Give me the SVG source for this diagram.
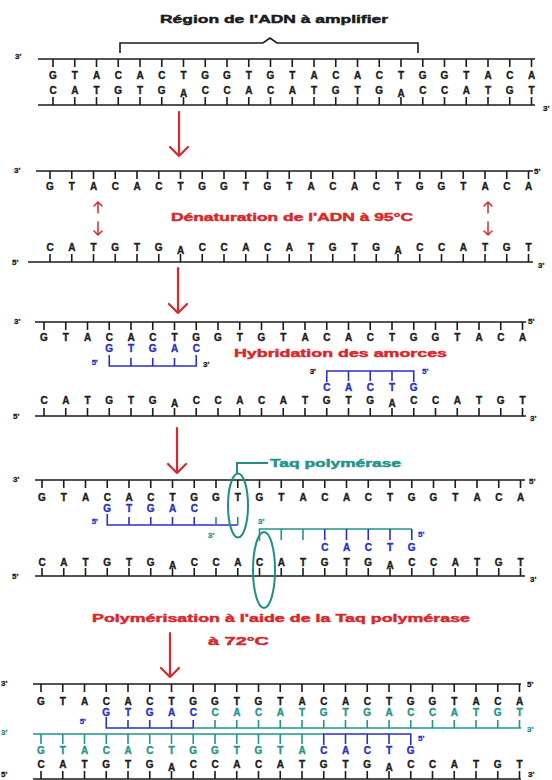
<svg xmlns="http://www.w3.org/2000/svg" xmlns:xlink="http://www.w3.org/1999/xlink" width="552" height="780" viewBox="0 0 552 780">
<style>
  .ln{stroke:#1b1b1b;stroke-width:1.6;fill:none}
  .bl{stroke:#2b30c2;stroke-width:1.6;fill:none}
  .tl{stroke:#1f968a;stroke-width:1.6;fill:none}
  .base{font-family:"Liberation Sans",Arial,sans-serif;font-weight:bold;font-size:10px;text-anchor:middle;fill:#1b1b1b;stroke:#1b1b1b;stroke-width:0.35}
  .end{font-family:"Liberation Sans",Arial,sans-serif;font-weight:bold;font-size:8px;fill:#1b1b1b;stroke:#1b1b1b;stroke-width:0.3}
  .endr{text-anchor:end}
  .lab{font-family:"Liberation Sans",Arial,sans-serif;font-weight:900;font-size:11px;stroke-width:0.45}
  .red{fill:#d8282c;stroke:#d8282c}
  .blue{fill:#2b30c2;stroke:#2b30c2}
  .teal{fill:#1f968a;stroke:#1f968a}
  .blk{fill:#1b1b1b;stroke:#1b1b1b}
  .arr{stroke:#d8282c;stroke-width:2.2;fill:none;stroke-linecap:round;stroke-linejoin:round}
  .arr2{stroke:#d8282c;stroke-width:1.5;fill:none;stroke-linecap:round;stroke-linejoin:round}
  .oval{stroke:#1f8f82;stroke-width:2;fill:none}
</style>
<defs>
  <!-- 23 base ticks, 21.75 px apart, 8 px long -->
  <path id="comb" class="ln" d="M0 0V8M21.75 0V8M43.5 0V8M65.25 0V8M87 0V8M108.75 0V8M130.5 0V8M152.25 0V8M174 0V8M195.75 0V8M217.5 0V8M239.25 0V8M261 0V8M282.75 0V8M304.5 0V8M326.25 0V8M348 0V8M369.75 0V8M391.5 0V8M413.25 0V8M435 0V8M456.75 0V8M478.5 0V8"/>
</defs>

<!-- step 1: double-stranded DNA with region to amplify -->
<g id="step1-duplex">
  <text class="lab blk" x="160" y="23" textLength="228" lengthAdjust="spacingAndGlyphs">Région de l'ADN à amplifier</text>
  <path class="ln" d="M120 53V43H263L270 38L277 43H418V53"/>
  <path class="ln" d="M38 59H535M38 105H535"/>
  <text class="end" x="15" y="59">3'</text>
  <text class="end" x="543" y="111">3'</text>
  <g transform="translate(53 0)">
    <use xlink:href="#comb" y="59"/>
    <use xlink:href="#comb" y="97"/>
    <text class="base" x="0 21.75 43.5 65.25 87 108.75 130.5 152.25 174 195.75 217.5 239.25 261 282.75 304.5 326.25 348 369.75 391.5 413.25 435 456.75 478.5" y="78.5">GTACACTGGTGTACACTGGTACA</text>
    <text class="base" x="0 21.75 43.5 65.25 87 108.75 130.5 152.25 174 195.75 217.5 239.25 261 282.75 304.5 326.25 348 369.75 391.5 413.25 435 456.75 478.5" y="93.5 93.5 93.5 93.5 93.5 93.5 96.5 93.5 93.5 93.5 93.5 93.5 93.5 93.5 93.5 93.5 96.5 93.5 93.5 93.5 93.5 93.5 93.5">CATGTGACCACATGTGACCATGT</text>
  </g>
</g>

<!-- step 2: denaturation -->
<g id="step2-denaturation">
  <path class="ln" d="M36 171H533M28 262H533"/>
  <text class="end" x="14" y="173">3'</text>
  <text class="end" x="534" y="174">5'</text>
  <text class="end" x="12" y="265">5'</text>
  <text class="end" x="538" y="268">3'</text>
  <g transform="translate(50 0)">
    <use xlink:href="#comb" y="171"/>
    <use xlink:href="#comb" y="254"/>
    <text class="base" x="0 21.75 43.5 65.25 87 108.75 130.5 152.25 174 195.75 217.5 239.25 261 282.75 304.5 326.25 348 369.75 391.5 413.25 435 456.75 478.5" y="189.5">GTACACTGGTGTACACTGGTACA</text>
    <text class="base" x="0 21.75 43.5 65.25 87 108.75 130.5 152.25 174 195.75 217.5 239.25 261 282.75 304.5 326.25 348 369.75 391.5 413.25 435 456.75 478.5" y="250.5 250.5 250.5 250.5 250.5 250.5 253.5 250.5 250.5 250.5 250.5 250.5 250.5 250.5 250.5 250.5 253.5 250.5 250.5 250.5 250.5 250.5 250.5">CATGTGACCACATGTGACCATGT</text>
  </g>
  <path class="arr2" d="M98 213V202M94 206L98 202L102 206M98 222V235M94 231L98 235L102 231"/>
  <path class="arr2" d="M488 213V202M484 206L488 202L492 206M488 222V235M484 231L488 235L492 231"/>
  <text class="lab red" x="171" y="221" textLength="242" lengthAdjust="spacingAndGlyphs">Dénaturation de l'ADN à 95°C</text>
</g>

<!-- step 3: primer annealing -->
<g id="step3-hybridation">
  <path class="ln" d="M35 322H526M35 416H526"/>
  <text class="end" x="14" y="324">3'</text>
  <text class="end" x="528" y="324">5'</text>
  <text class="end" x="13" y="419">5'</text>
  <text class="end" x="530" y="421">3'</text>
  <g transform="translate(44 0)">
    <use xlink:href="#comb" y="322"/>
    <use xlink:href="#comb" y="408"/>
    <text class="base" x="0 21.75 43.5 65.25 87 108.75 130.5 152.25 174 195.75 217.5 239.25 261 282.75 304.5 326.25 348 369.75 391.5 413.25 435 456.75 478.5" y="341">GTACACTGGTGTACACTGGTACA</text>
    <text class="base" x="0 21.75 43.5 65.25 87 108.75 130.5 152.25 174 195.75 217.5 239.25 261 282.75 304.5 326.25 348 369.75 391.5 413.25 435 456.75 478.5" y="403.5 403.5 403.5 403.5 403.5 403.5 406.5 403.5 403.5 403.5 403.5 403.5 403.5 403.5 403.5 403.5 406.5 403.5 403.5 403.5 403.5 403.5 403.5">CATGTGACCACATGTGACCATGT</text>
  </g>
  <g id="primer-fwd">
    <text class="base blue" x="109.25 131 152.75 174.5 196.25" y="351.5">GTGAC</text>
    <path class="bl" d="M109.25 355V366H196.25V355M131 358V366M152.75 358V366M174.5 358V366"/>
    <text class="end blue endr" x="98" y="365">5'</text>
    <text class="end" x="203" y="367">3'</text>
  </g>
  <g id="primer-rev">
    <path class="bl" d="M326.75 382V371H413.75V382M348.5 371V381M370.25 371V381M392 371V381"/>
    <text class="end endr" x="316" y="374">3'</text>
    <text class="end blue" x="422" y="374">5'</text>
    <text class="base blue" x="326.75 348.5 370.25 392 413.75" y="391">CACTG</text>
  </g>
  <text class="lab red" x="234" y="357" textLength="213" lengthAdjust="spacingAndGlyphs">Hybridation des amorces</text>
</g>

<!-- step 4: elongation by Taq polymerase -->
<g id="step4-polymerisation">
  <path class="ln" d="M35 480H525M35 576H525"/>
  <text class="end" x="13" y="482">3'</text>
  <text class="end" x="529" y="484">5'</text>
  <text class="end" x="12" y="579">5'</text>
  <text class="end" x="530" y="582">3'</text>
  <g transform="translate(42 0)">
    <use xlink:href="#comb" y="480"/>
    <use xlink:href="#comb" y="568"/>
    <text class="base" x="0 21.75 43.5 65.25 87 108.75 130.5 152.25 174 195.75 217.5 239.25 261 282.75 304.5 326.25 348 369.75 391.5 413.25 435 456.75 478.5" y="501">GTACACTGGTGTACACTGGTACA</text>
    <text class="base" x="0 21.75 43.5 65.25 87 108.75 130.5 152.25 174 195.75 217.5 239.25 261 282.75 304.5 326.25 348 369.75 391.5 413.25 435 456.75 478.5" y="565.5 565.5 565.5 565.5 565.5 565.5 568.5 565.5 565.5 565.5 565.5 565.5 565.5 565.5 565.5 565.5 568.5 565.5 565.5 565.5 565.5 565.5 565.5">CATGTGACCACATGTGACCATGT</text>
  </g>
  <g id="strand-fwd-ext">
    <text class="base blue" x="107.25 129 150.75 172.5 194.25" y="511.5">GTGAC</text>
    <path class="bl" d="M107.25 514V525H237.75M129 517V525M150.75 517V525M172.5 517V525M194.25 517V525"/>
    <path class="tl" d="M216 517V525M237.75 517V525"/>
    <text class="end blue endr" x="98" y="524">5'</text>
    <text class="end teal" x="208" y="538">3'</text>
  </g>
  <g id="strand-rev-ext">
    <path class="tl" d="M259.5 541V529H411.75M281.25 529V540M303 529V540"/>
    <path class="bl" d="M324.75 529V540M346.5 529V540M368.25 529V540M390 529V540M411.75 529V540"/>
    <text class="end teal" x="258" y="524">3'</text>
    <text class="end blue" x="418" y="537">5'</text>
    <text class="base blue" x="324.75 346.5 368.25 390 411.75" y="551">CACTG</text>
  </g>
  <g id="taq">
    <ellipse class="oval" cx="238" cy="505.5" rx="10" ry="32"/>
    <ellipse class="oval" cx="264" cy="570" rx="11" ry="38"/>
    <path class="oval" d="M237 473V463H268"/>
    <text class="lab teal" x="270" y="467" textLength="131" lengthAdjust="spacingAndGlyphs">Taq polymérase</text>
  </g>
  <text class="lab red" x="92" y="622" textLength="378" lengthAdjust="spacingAndGlyphs">Polymérisation à l'aide de la Taq polymérase</text>
  <text class="lab red" x="208" y="645" textLength="61" lengthAdjust="spacingAndGlyphs">à 72°C</text>
</g>

<!-- step 5: two new double strands -->
<g id="step5-result">
  <path class="ln" d="M33 684H521M33 779H521"/>
  <text class="end" x="1" y="686">3'</text>
  <text class="end" x="527" y="687">5'</text>
  <text class="end" x="1" y="777">5'</text>
  <text class="end" x="528" y="777">3'</text>
  <g transform="translate(41 0)">
    <use xlink:href="#comb" y="684"/>
    <use xlink:href="#comb" y="771"/>
    <text class="base" x="0 21.75 43.5 65.25 87 108.75 130.5 152.25 174 195.75 217.5 239.25 261 282.75 304.5 326.25 348 369.75 391.5 413.25 435 456.75 478.5" y="705">GTACACTGGTGTACACTGGTACA</text>
    <text class="base blue" x="65.25 87 108.75 130.5 152.25" y="716">GTGAC</text>
    <text class="base teal" x="174 195.75 217.5 239.25 261 282.75 304.5 326.25 348 369.75 391.5 413.25 435 456.75 478.5" y="716">CACATGTGACCATGT</text>
    <text class="base teal" x="0 21.75 43.5 65.25 87 108.75 130.5 152.25 174 195.75 217.5 239.25 261" y="753.5">GTACACTGGTGTA</text>
    <text class="base blue" x="282.75 304.5 326.25 348 369.75" y="753.5">CACTG</text>
    <text class="base" x="0 21.75 43.5 65.25 87 108.75 130.5 152.25 174 195.75 217.5 239.25 261 282.75 304.5 326.25 348 369.75 391.5 413.25 435 456.75 478.5" y="768 768 768 768 768 768 770.5 768 768 768 768 768 768 768 768 768 770.5 768 768 768 768 768 768">CATGTGACCACATGTGACCATGT</text>
  </g>
  <g id="new-strand-fwd">
    <path class="bl" d="M106.25 717V728H193.25M128 720V728M149.75 720V728M171.5 720V728M193.25 720V728"/>
    <path class="tl" d="M193.25 728H521M215 720V728M236.75 720V728M258.5 720V728M280.25 720V728M302 720V728M323.75 720V728M345.5 720V728M367.25 720V728M389 720V728M410.75 720V728M432.5 720V728M454.25 720V728M476 720V728M497.75 720V728M519.5 720V728"/>
    <text class="end blue endr" x="86" y="724">5'</text>
    <text class="end teal" x="527" y="732">3'</text>
  </g>
  <g id="new-strand-rev">
    <path class="tl" d="M33 734H323.75M41 734V744M62.75 734V744M84.5 734V744M106.25 734V744M128 734V744M149.75 734V744M171.5 734V744M193.25 734V744M215 734V744M236.75 734V744M258.5 734V744M280.25 734V744M302 734V744"/>
    <path class="bl" d="M323.75 745V734H410.75V745M345.5 734V744M367.25 734V744M389 734V744"/>
    <text class="end teal" x="1" y="735">3'</text>
    <text class="end blue" x="418" y="741">5'</text>
  </g>
</g>

<!-- step arrows -->
<g id="connectors">
  <path class="arr" d="M179 112V156M170 147L179 156L188 147"/>
  <path class="arr" d="M178 268V313M169 304L178 313L187 304"/>
  <path class="arr" d="M177 428V473M168 464L177 473L186 464"/>
  <path class="arr" d="M170 633V677M161 668L170 677L179 668"/>
</g>
</svg>
